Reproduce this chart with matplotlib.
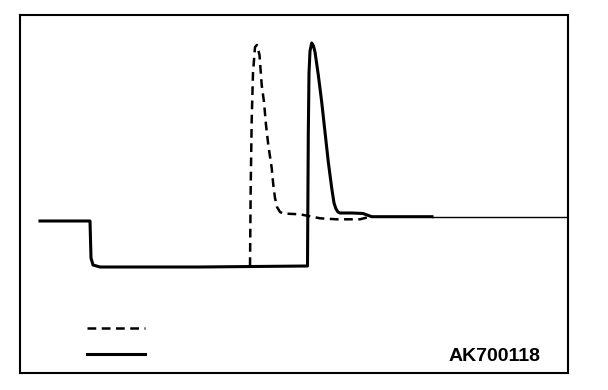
import matplotlib
matplotlib.use("Agg")
import matplotlib.pyplot as plt

# time (arbitrary units) and signal level
solid_t = [20, 70, 71, 73, 80, 180, 287.5, 288.3, 289, 290, 291.7, 293.5,
           295, 298.3, 301.7, 305, 308.3, 311.7, 314, 316, 318, 320, 332,
           343, 351.7, 412]
solid_s = [152, 152, 115, 108, 106, 106, 107, 240, 300, 322, 330, 327,
           321, 298, 271, 241, 211, 185, 170, 164, 161, 160, 160,
           159.5, 156.3, 156.3]
tail_t = [412, 547]
tail_s = [156.3, 156.3]

dash_t = [230, 230.7, 231.7, 233, 235, 237, 239.5, 241.7, 244, 246, 248.3,
          251.7, 253.3, 255, 257, 260, 263.3, 280, 300, 316.7, 340, 350]
dash_s = [107, 186, 253, 300, 326, 328, 318, 288, 271, 248, 228,
          205, 188, 175, 166, 161, 159.5, 158.7, 154.7, 153.7, 153.7, 156.3]

code_label = "AK700118"

fig = plt.figure(figsize=(6.08, 3.90), dpi=100)
ax = fig.add_axes([20 / 608, 17 / 390, 548 / 608, 358 / 390])
ax.set_xlim(0, 548)
ax.set_ylim(0, 358)

ax.plot(solid_t, solid_s, color="black", lw=2.2, solid_joinstyle="round")
ax.plot(tail_t, tail_s, color="black", lw=1.0)
ax.plot(dash_t, dash_s, color="black", lw=1.8, dashes=(3.5, 2.2))

# legend samples
ax.plot([0.122, 0.228], [0.126, 0.126], color="black", lw=1.8,
        dashes=(3.5, 2.2), transform=ax.transAxes)
ax.plot([0.122, 0.228], [0.053, 0.053], color="black", lw=2.2,
        transform=ax.transAxes)

ax.text(0.949, 0.045, code_label, transform=ax.transAxes, ha="right",
        va="center", fontsize=14, fontweight="bold", family="Liberation Sans")

ax.set_xticks([])
ax.set_yticks([])
for sp in ax.spines.values():
    sp.set_linewidth(1.5)

fig.savefig("out.png", dpi=100)
